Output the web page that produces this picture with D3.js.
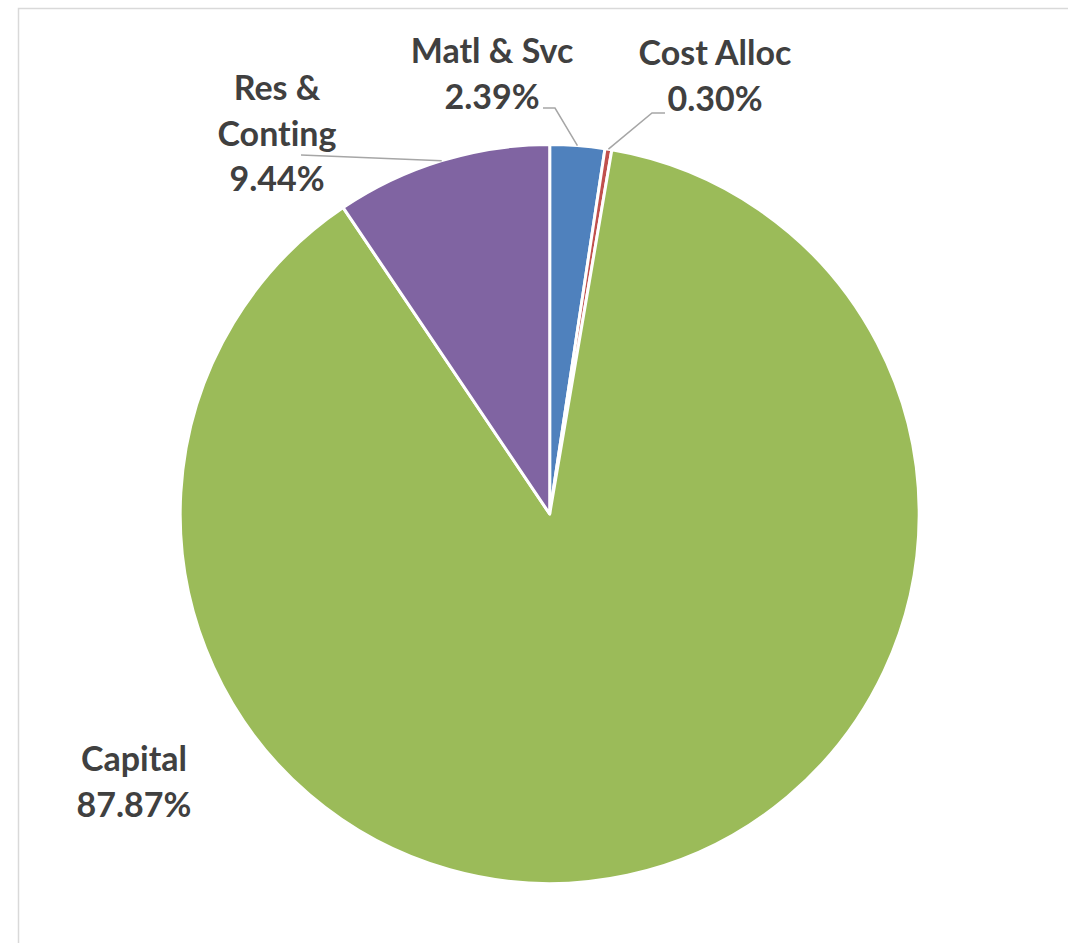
<!DOCTYPE html>
<html>
<head>
<meta charset="utf-8">
<script src="https://cdn.jsdelivr.net/npm/d3@7"></script>
<style>
  html, body { margin: 0; padding: 0; background: #fff; }
  svg { display: block; }
  .lbl { font-family: Lato, "Open Sans", sans-serif; font-weight: 700; fill: #404040;
         font-variant-ligatures: none; font-feature-settings: "liga" 0, "clig" 0; }
</style>
</head>
<body>
<svg id="chart" width="1068" height="943"></svg>
<script>
// Budget share by cost category (percent of total)
const categories = ["Matl & Svc", "Cost Alloc", "Capital", "Res & Conting"];
const shares = [2.39, 0.30, 87.87, 9.44];
const colors = ["#4F81BD", "#C0504D", "#9BBB59", "#8064A2"];

// Label text anchors (centre x, first baseline y) and leader-line elbows
const labelAnchors = [[492, 63], [715, 65], [134, 771], [277, 100]];
const leaderElbows = [[[543, 108], [555, 108]], [[665, 113], [652, 113]], null, [[301, 155]]];

const svg = d3.select("#chart");
const W = 1068, H = 943;

// chart-area frame
svg.append("rect")
  .attr("x", 18.5).attr("y", 8.5)
  .attr("width", W + 20).attr("height", H + 20)
  .attr("fill", "#fff")
  .attr("stroke", "#d9d9d9").attr("stroke-width", 1.5);

const cx = 549.7, cy = 514, R = 369.5;

const data = categories.map((c, i) => ({ name: c, value: shares[i], color: colors[i], i }));

const pie = d3.pie().sort(null).value(d => d.value);
const arcs = pie(data);
const arc = d3.arc().innerRadius(0).outerRadius(R);

const g = svg.append("g").attr("transform", `translate(${cx},${cy})`);

g.selectAll("path.slice")
  .data(arcs)
  .join("path")
  .attr("class", "slice")
  .attr("d", arc)
  .attr("fill", d => d.data.color)
  .attr("stroke", "#fff")
  .attr("stroke-width", 3)
  .attr("stroke-linejoin", "round");

// leader lines: from the slice's outer edge at its mid angle to the label elbow
const lineGen = d3.line();
arcs.forEach((a, i) => {
  const elbow = leaderElbows[i];
  if (!elbow) return;
  const mid = (a.startAngle + a.endAngle) / 2;
  const edge = [cx + R * Math.sin(mid), cy - R * Math.cos(mid)];
  const pts = elbow.concat([edge]);
  svg.append("path")
    .attr("d", lineGen(pts))
    .attr("fill", "none")
    .attr("stroke", "#a6a6a6")
    .attr("stroke-width", 1.5);
});

// labels
const lineStep = 45.5;
arcs.forEach((a, i) => {
  const words = a.data.name === "Res & Conting" ? ["Res &", "Conting"] : [a.data.name];
  const lines = words.concat([a.data.value.toFixed(2) + "%"]);
  const [lx, ly] = labelAnchors[i];
  const t = svg.append("text")
    .attr("class", "lbl")
    .attr("text-anchor", "middle")
    .attr("font-size", 34);
  lines.forEach((s, k) => {
    t.append("tspan").attr("x", lx).attr("y", ly + k * lineStep).text(s);
  });
});
</script>
</body>
</html>
